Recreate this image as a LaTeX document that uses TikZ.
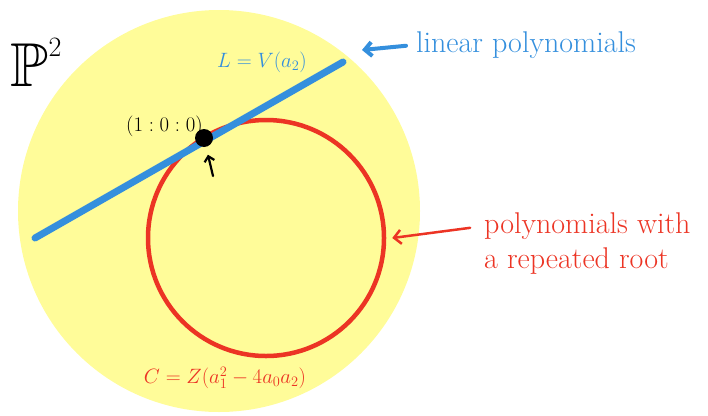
\documentclass[tikz,border=0pt]{standalone}
\usepackage{amssymb}
\usetikzlibrary{positioning,arrows.meta}
\definecolor{penblue}{RGB}{52,143,221}
\definecolor{penred}{RGB}{236,52,36}
\definecolor{padyellow}{RGB}{255,252,153}
\newcommand{\handfont}{\fontsize{30}{37}\selectfont}

\begin{document}
\begin{tikzpicture}[x=1pt, y=-1pt, font=\rmfamily\huge, line cap=round,
  >={Straight Barb[length=7pt, width=14pt]}]
\useasboundingbox (0,0) rectangle (708,415);
\fill[padyellow] (219,211) circle (201);
\node[circle, draw=penred, line width=4.5pt, minimum size=236pt, inner sep=0pt] (C) at (266,238) {};

\coordinate (Lstart) at (35,238);
\coordinate (Lend) at (343,62);
\draw[penblue, line width=7pt] (Lstart) -- (Lend);
\node[circle, fill=black, minimum size=18pt, inner sep=0pt] (pt) at (204,138) {};

\node (P2) at (36,62) {\fontsize{62}{70}\selectfont$\mathbb{P}$\raisebox{30pt}{\fontsize{28}{30}\selectfont 2}};
\node[penblue] (Lname) at (262,62) {$L = V(a_2)$};
\node[anchor=east, inner sep=0pt] (ptname) at (203,126) {$(1:0:0)$};
\coordinate[below right=38pt and 9pt of pt.center] (up);
\draw[->, line width=2.2pt, shorten >=8pt, >={Straight Barb[length=5pt, width=10pt]}] (up) -- (pt);

\node[penblue, font=\handfont, inner sep=2pt] (lin) at (526,45) {linear polynomials};
\coordinate (linend) at (362,50);
\draw[->, penblue, line width=4pt, shorten <=8pt] (lin.west) -- (linend);

\node[penred, font=\handfont, anchor=west, inner sep=0pt] (rep1) at (484,226) {polynomials with};
\node[penred, font=\handfont, below=8pt of rep1.south west, anchor=north west, inner sep=0pt] (rep2) {a repeated root};
\coordinate[right=6pt of C.east] (Cend);
\draw[->, penred, line width=2.5pt, shorten <=14pt] (rep1.west) -- (Cend);

\node[penred] (Cname) at (225,378) {$C = Z\bigl(a_1^2 - 4a_0a_2\bigr)$};
\end{tikzpicture}
\end{document}
